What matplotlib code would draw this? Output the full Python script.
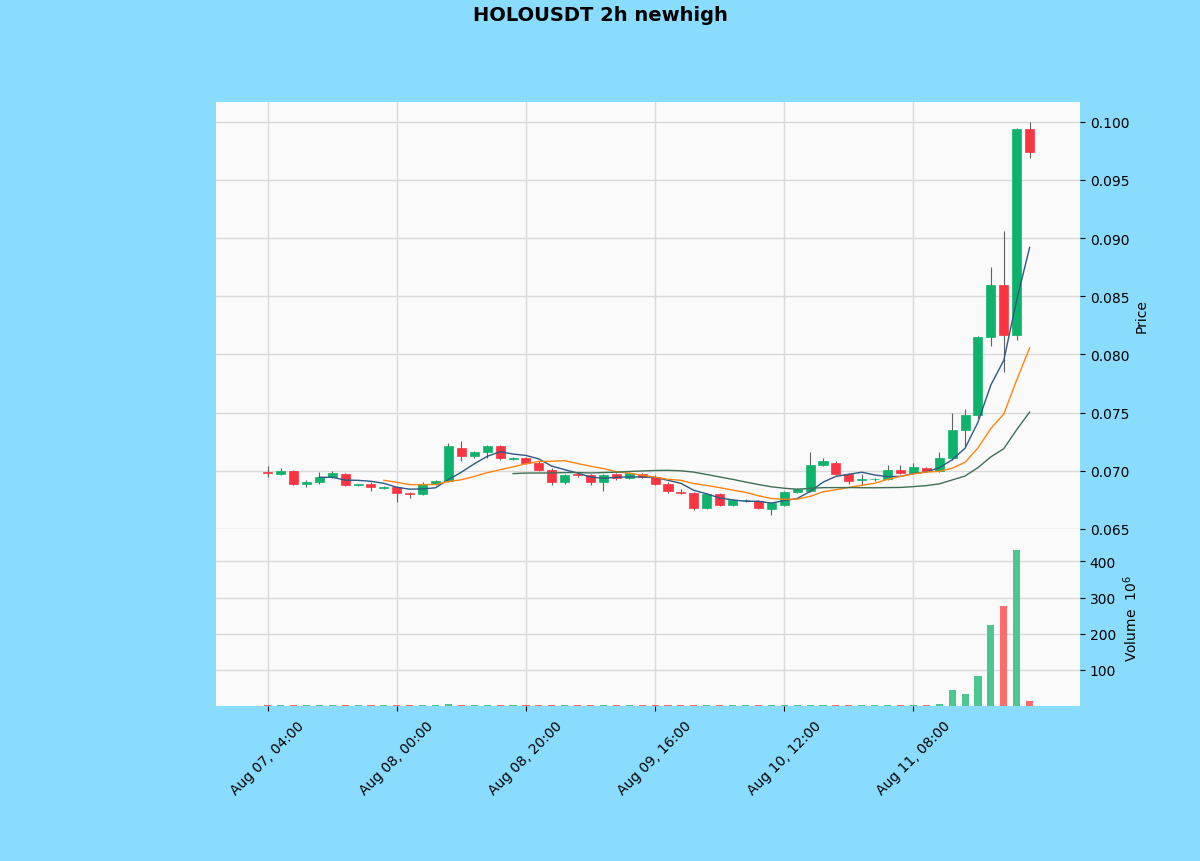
import matplotlib
matplotlib.use("Agg")
import matplotlib.pyplot as plt
import numpy as np
import pandas as pd

BG = "#89dcfe"
PANEL = "#fafafa"
UP, DOWN = "#0db36a", "#fa3541"
VUP, VDOWN = "#4dc790", "#fd6b6c"
WICK = "#606060"
MAV_COLORS = ["#2c5985", "#ff8410", "#3f6f56"]

# 2h candles, HOLOUSDT
opens = [0.0699, 0.0697, 0.0700, 0.0689, 0.0690, 0.0695, 0.0697, 0.0688, 0.0689, 0.0685,
         0.0686, 0.0681, 0.0680, 0.0689, 0.0691, 0.0720, 0.0713, 0.0716, 0.0721, 0.0710,
         0.0711, 0.0707, 0.0701, 0.0690, 0.0697, 0.0696, 0.0690, 0.0697, 0.0694, 0.0697,
         0.0695, 0.0689, 0.0682, 0.0681, 0.0668, 0.0680, 0.0671, 0.0675, 0.0674, 0.0667,
         0.0671, 0.0682, 0.0683, 0.0705, 0.0707, 0.0697, 0.0692, 0.0693, 0.0693, 0.0701,
         0.0698, 0.0702, 0.0700, 0.0711, 0.0735, 0.0748, 0.0815, 0.0860, 0.0817, 0.0994]
highs = [0.0704, 0.0702, 0.0701, 0.0692, 0.0699, 0.0700, 0.0698, 0.0689, 0.0690, 0.0687,
         0.0687, 0.0682, 0.0690, 0.0692, 0.0724, 0.0726, 0.0717, 0.0722, 0.0722, 0.0712,
         0.0712, 0.0708, 0.0702, 0.0697, 0.0698, 0.0697, 0.0697, 0.0698, 0.0699, 0.0698,
         0.0696, 0.0690, 0.0684, 0.0682, 0.0681, 0.0681, 0.0676, 0.0676, 0.0675, 0.0673,
         0.0683, 0.0685, 0.0716, 0.0711, 0.0708, 0.0698, 0.0697, 0.0694, 0.0705, 0.0705,
         0.0707, 0.0703, 0.0716, 0.0750, 0.0753, 0.0816, 0.0875, 0.0906, 0.0995, 0.1000]
lows = [0.0695, 0.0696, 0.0688, 0.0686, 0.0689, 0.0694, 0.0687, 0.0687, 0.0683, 0.0684,
        0.0673, 0.0677, 0.0679, 0.0688, 0.0690, 0.0708, 0.0711, 0.0711, 0.0709, 0.0709,
        0.0706, 0.0700, 0.0688, 0.0689, 0.0695, 0.0688, 0.0683, 0.0692, 0.0693, 0.0694,
        0.0688, 0.0681, 0.0680, 0.0666, 0.0667, 0.0670, 0.0670, 0.0673, 0.0667, 0.0662,
        0.0670, 0.0681, 0.0682, 0.0704, 0.0696, 0.0689, 0.0688, 0.0691, 0.0692, 0.0697,
        0.0697, 0.0699, 0.0699, 0.0709, 0.0721, 0.0745, 0.0807, 0.0785, 0.0812, 0.0969]
closes = [0.0698, 0.0700, 0.0689, 0.0690, 0.0695, 0.0698, 0.0688, 0.0688, 0.0686, 0.0686,
          0.0681, 0.0680, 0.0689, 0.0691, 0.0721, 0.0713, 0.0716, 0.0721, 0.0711, 0.0711,
          0.0707, 0.0701, 0.0690, 0.0696, 0.0696, 0.0690, 0.0696, 0.0694, 0.0698, 0.0695,
          0.0689, 0.0683, 0.0681, 0.0668, 0.0680, 0.0671, 0.0675, 0.0675, 0.0668, 0.0672,
          0.0682, 0.0684, 0.0705, 0.0708, 0.0697, 0.0691, 0.0693, 0.0693, 0.0701, 0.0698,
          0.0703, 0.0700, 0.0711, 0.0735, 0.0748, 0.0815, 0.0860, 0.0817, 0.0994, 0.0974]
# volume in millions
volumes = [3, 2, 3, 2, 2, 2, 3, 2, 2, 2,
           3, 2, 2, 3, 5, 4, 2, 2, 3, 2,
           2, 2, 3, 2, 2, 2, 3, 2, 2, 2,
           2, 3, 3, 3, 2, 2, 2, 2, 2, 3,
           3, 3, 4, 2, 3, 2, 2, 3, 2, 2,
           3, 2, 6, 44, 33, 84, 223, 278, 433, 13]
mav_periods = [5, 10, 20]

dates = pd.date_range("2024-08-07 04:00", periods=len(closes), freq="2h")
tick_idx = [0, 10, 20, 30, 40, 50]

o = np.array(opens); h = np.array(highs); l = np.array(lows); c = np.array(closes)
x = np.arange(len(c))
up = c >= o

fig = plt.figure(figsize=(12, 8.62), dpi=100, facecolor=BG)
ax = fig.add_axes([0.18, 0.3852, 0.72, 0.4953])
axv = fig.add_axes([0.18, 0.1798, 0.72, 0.2054], sharex=ax)

for a in (ax, axv):
    a.set_facecolor(PANEL)
    a.grid(True, color="#d9d9d9", linewidth=1.0)
    a.set_axisbelow(True)
    for sp in a.spines.values():
        sp.set_visible(False)
    a.yaxis.tick_right()
    a.yaxis.set_label_position("right")

# candles
ax.vlines(x, l, h, color=WICK, linewidth=0.8, zorder=2)
body_h = np.abs(c - o)
body_h = np.where(body_h < 0.00003, 0.00003, body_h)
ax.bar(x, body_h, bottom=np.minimum(o, c), width=0.7,
       color=np.where(up, UP, DOWN), edgecolor=np.where(up, UP, DOWN),
       linewidth=0.5, zorder=3)

# moving averages
s = pd.Series(c)
for p, col in zip(mav_periods, MAV_COLORS):
    ax.plot(x, s.rolling(p).mean(), color=col, linewidth=1.0, zorder=4)

ax.set_ylim(0.0650, 0.1017)
ax.set_yticks(np.arange(0.065, 0.1001, 0.005))
ax.yaxis.set_major_formatter(matplotlib.ticker.FormatStrFormatter("%.3f"))
ax.set_ylabel("Price", fontsize=10)
ax.tick_params(axis="x", bottom=False, labelbottom=False)

# volume
axv.bar(x, volumes, width=0.55, color=np.where(up, VUP, VDOWN), zorder=3)
axv.set_ylim(0, 490)
axv.set_yticks([100, 200, 300, 400])
axv.set_ylabel("Volume  $10^{6}$", fontsize=10)

axv.set_xlim(-4.0, 62.9)
axv.set_xticks(tick_idx)
axv.set_xticklabels([dates[i].strftime("%b %d, %H:%M") for i in tick_idx],
                    rotation=45, ha="center", fontsize=10)
axv.tick_params(axis="x", pad=5)
for a in (ax, axv):
    a.tick_params(axis="y", labelsize=10)

fig.suptitle("HOLOUSDT 2h newhigh", fontsize=14, fontweight="bold", y=0.993)

fig.savefig("out.png", dpi=100, facecolor=BG)
